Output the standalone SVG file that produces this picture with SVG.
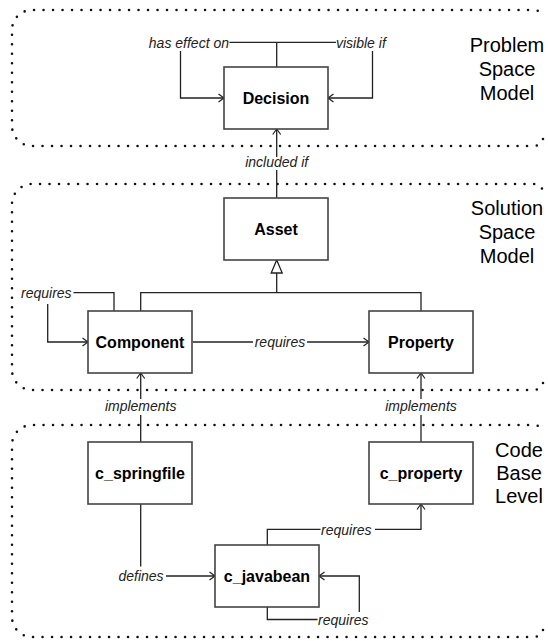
<svg xmlns="http://www.w3.org/2000/svg" width="548" height="641" viewBox="0 0 548 641">
<style>
.region{fill:none;stroke:#111;stroke-width:2.6;stroke-linecap:round;stroke-dasharray:0 9.5}
.box{fill:#fff;stroke:#444;stroke-width:1.6}
.lbl{font-family:"Liberation Sans",Arial,sans-serif;font-size:16px;font-weight:bold;fill:#000;text-anchor:middle}
.rl{font-family:"Liberation Sans",Arial,sans-serif;font-size:20px;fill:#000;text-anchor:middle}
.el{font-family:"Liberation Sans",Arial,sans-serif;font-size:14px;font-style:italic;fill:#222}
.c{fill:none;stroke:#222;stroke-width:1.3}
.arr{marker-end:url(#open)}
</style>
<defs>
<marker id="open" markerUnits="userSpaceOnUse" markerWidth="8" markerHeight="10" refX="5.5" refY="4" orient="auto" overflow="visible">
<path d="M0,0 L5.5,4 L0,8" fill="none" stroke="#222" stroke-width="1.2"/>
</marker>
</defs>

<g id="regions">
<path class="region" d="M543 139 Q541 146 533 146 H32 A20 20 0 0 1 12 126 V30 A20 20 0 0 1 32 10 H533 Q541 10 543 17"/>
<path class="region" d="M543 383 Q541 390 533 390 H32 A20 20 0 0 1 12 370 V204 A20 20 0 0 1 32 184 H533 Q541 184 543 191"/>
<path class="region" d="M543 630 Q541 637 533 637 H32 A20 20 0 0 1 12 617 V445 A20 20 0 0 1 32 425 H533 Q541 425 543 432"/>
<text class="rl" x="507" y="52">Problem</text>
<text class="rl" x="507" y="76">Space</text>
<text class="rl" x="507" y="100">Model</text>
<text class="rl" x="507" y="215">Solution</text>
<text class="rl" x="507" y="239">Space</text>
<text class="rl" x="507" y="263">Model</text>
<text class="rl" x="519" y="457">Code</text>
<text class="rl" x="519" y="480">Base</text>
<text class="rl" x="519" y="503">Level</text>
</g>

<g id="connectors">
<path class="c arr" d="M180.5 51 V98 H224"/>
<text class="el" x="229" y="47.8" text-anchor="end">has effect on</text>
<path class="c arr" d="M372.5 51 V98 H328"/>
<text class="el" x="336" y="47.8">visible if</text>
<path class="c" d="M229.5 42.3 H336 M276.7 42.3 V67"/>

<path class="c" d="M276.7 198 V170"/>
<path class="c arr" d="M276.7 157 V129"/>
<text class="el" x="276.7" y="167" text-anchor="middle">included if</text>

<path class="c" d="M140.7 311 V292.7 H421 V311 M276.7 292.7 V273"/>
<polygon points="276.7,260 271.2,273 282.2,273" fill="#fff" stroke="#222" stroke-width="1.3"/>

<text class="el" x="21" y="298">requires</text>
<path class="c" d="M73.5 292.7 H114 V311"/>
<path class="c arr" d="M47.7 304 V342 H88"/>

<path class="c" d="M192.7 342 H253"/>
<text class="el" x="280" y="347" text-anchor="middle">requires</text>
<path class="c arr" d="M307 342 H369"/>

<path class="c" d="M140.7 442 V415"/>
<path class="c arr" d="M140.7 399 V373"/>
<text class="el" x="140.7" y="410.5" text-anchor="middle">implements</text>
<path class="c" d="M421 442 V415"/>
<path class="c arr" d="M421 399 V373"/>
<text class="el" x="421" y="410.5" text-anchor="middle">implements</text>

<path class="c" d="M140.7 504 V566.5"/>
<text class="el" x="141" y="581" text-anchor="middle">defines</text>
<path class="c arr" d="M166 576 H215"/>

<path class="c" d="M267.3 545 V529.3 H320.5"/>
<text class="el" x="321" y="534.5">requires</text>
<path class="c arr" d="M375 529.3 H421 V504"/>

<path class="c" d="M267.3 607 V619.5 H317.5"/>
<text class="el" x="318" y="625">requires</text>
<path class="c arr" d="M359.3 612 V576 H319"/>
</g>

<g id="decision"><rect class="box" x="224" y="67" width="104" height="62"/><text class="lbl" x="276" y="103.5">Decision</text></g>
<g id="asset"><rect class="box" x="224" y="198" width="104" height="62"/><text class="lbl" x="276" y="234.5">Asset</text></g>
<g id="component"><rect class="box" x="88" y="311" width="104" height="62"/><text class="lbl" x="140" y="347.5">Component</text></g>
<g id="property"><rect class="box" x="369" y="311" width="104" height="62"/><text class="lbl" x="421" y="347.5">Property</text></g>
<g id="c_springfile"><rect class="box" x="88" y="442" width="104" height="62"/><text class="lbl" x="140" y="478.5">c_springfile</text></g>
<g id="c_property"><rect class="box" x="369" y="442" width="104" height="62"/><text class="lbl" x="421" y="478.5">c_property</text></g>
<g id="c_javabean"><rect class="box" x="215" y="545" width="104" height="62"/><text class="lbl" x="267" y="581.5">c_javabean</text></g>
</svg>
